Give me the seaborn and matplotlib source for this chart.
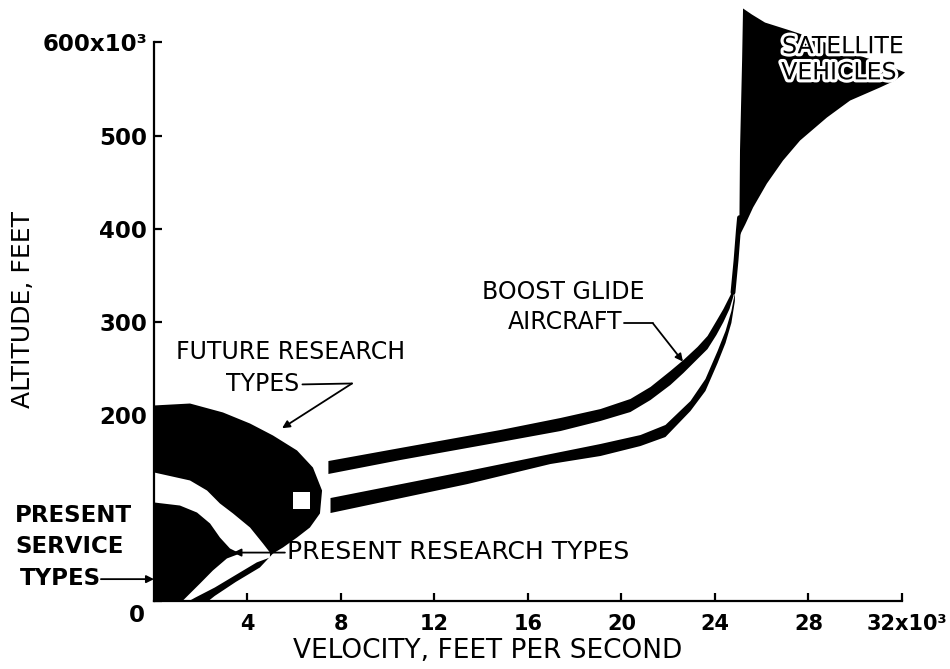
import matplotlib

matplotlib.use("Agg")
import matplotlib.pyplot as plt
import matplotlib.transforms as mtransforms
import matplotlib.patheffects as pe
import seaborn as sns

# velocity in 10^3 ft/s, altitude in 10^3 ft
future_v = [0, 1.54, 2.95, 4.11, 5.09, 6.12, 6.80, 7.19, 7.10, 6.67, 6.12, 5.52, 5.09, 4.53, 3.50, 2.60, 2.30, 0]
future_alt = [210.4, 212.5, 202.9, 191.0, 178.2, 162.1, 143.8, 119.1, 94.5, 79.4, 68.7, 58.0, 51.5, 36.5, 21.0, 6.0, 0, 0]

research_v = [0, 1.54, 2.27, 2.82, 3.38, 4.11, 4.66, 4.96, 4.96, 4.40, 3.50, 2.60, 1.75, 1.50, 0]
research_alt = [138.5, 129.9, 119.1, 105.2, 94.5, 79.4, 62.3, 52.6, 47.2, 42.0, 28.5, 15.0, 4.0, 0.5, 0.5]

service_v = [0, 1.11, 1.84, 2.40, 2.82, 3.25, 3.68, 3.12, 2.52, 1.97, 1.54, 1.24, 0]
service_alt = [106.3, 103.0, 95.5, 83.7, 68.7, 56.9, 51.5, 46.2, 33.3, 19.3, 8.6, 1.1, 0]

gap_v = [5.95, 6.67, 6.67, 5.95]
gap_alt = [99.8, 99.8, 117.0, 117.0]

glide1_v = [7.44, 10.52, 14.80, 17.37, 19.08, 20.36, 21.22, 22.07, 22.63, 23.23, 23.66, 24.04, 24.34, 24.60, 24.77]
glide1_top = [151.3, 165.3, 184.6, 197.5, 207.1, 217.9, 230.8, 247.9, 259.7, 273.7, 285.5, 301.6, 314.5, 327.4, 335.9]
glide1_bottom = [137.4, 152.4, 171.7, 183.5, 194.3, 203.9, 216.8, 232.9, 245.8, 260.8, 271.5, 286.6, 300.5, 314.5, 328.4]

glide2_v = [7.53, 13.39, 16.94, 19.08, 20.79, 21.86, 22.93, 23.57, 24.09, 24.43, 24.68, 24.83]
glide2_top = [111.6, 140.6, 158.8, 169.6, 179.2, 190.0, 215.7, 239.3, 269.4, 290.9, 312.3, 331.7]
glide2_bottom = [95.5, 126.6, 148.1, 156.7, 167.4, 177.1, 205.0, 226.5, 256.5, 278.0, 299.5, 323.1]

stalk_v = [24.77, 24.90, 25.00, 25.05]
stalk_alt = [331.7, 366.0, 398.2, 412.0]

satellite_v = [25.04, 25.07, 25.16, 25.20, 25.58, 26.14, 27.21, 28.49, 29.78, 31.06, 32.13, 31.70,
               31.06, 29.78, 28.79, 27.64, 26.91, 26.22, 25.63, 25.30]
satellite_alt = [392.0, 484.1, 580.7, 636.5, 630.0, 621.4, 612.9, 602.1, 589.2, 578.5, 567.8, 559.2,
                 551.7, 537.7, 519.5, 494.8, 473.3, 448.6, 422.9, 405.0]

x_ticks = [4, 8, 12, 16, 20, 24, 28, 32]
x_labels = ["4", "8", "12", "16", "20", "24", "28", "32x10³"]
y_ticks = [0, 200, 300, 400, 500, 600]
y_labels = ["0", "200", "300", "400", "500", "600x10³"]

sns.set_theme(style="ticks")
plt.rcParams["font.family"] = ["DejaVu Sans"]

fig = plt.figure(figsize=(9.5, 6.69), dpi=100)
ax = fig.add_axes([0.1621, 0.1009, 0.7972, 0.8913])

# regions
ax.fill(future_v, future_alt, color="black", lw=0)
ax.fill(research_v, research_alt, color="white", lw=0)
ax.fill(service_v, service_alt, color="black", lw=0)
ax.fill(gap_v, gap_alt, color="white", lw=0)
ax.fill_between(glide1_v, glide1_bottom, glide1_top, color="black", lw=0)
ax.fill_between(glide2_v, glide2_bottom, glide2_top, color="black", lw=0)
sns.lineplot(x=stalk_v, y=stalk_alt, sort=False, estimator=None, color="black", lw=3.5, ax=ax)
ax.fill(satellite_v, satellite_alt, color="black", lw=0)

ax.set_xlim(0, 32.4)
ax.set_ylim(0, 640)
ax.spines["top"].set_visible(False)
ax.spines["right"].set_visible(False)
ax.spines["left"].set_bounds(0, 600)
ax.spines["bottom"].set_bounds(0, 32)
for s in ["left", "bottom"]:
    ax.spines[s].set_linewidth(1.6)
    ax.spines[s].set_color("black")

ax.set_xticks(x_ticks)
ax.set_xticklabels(x_labels)
ax.set_yticks(y_ticks)
ax.set_yticklabels(y_labels)
ax.tick_params(direction="in", length=6, width=1.6, color="black")
ax.tick_params(axis="x", pad=9, labelsize=15)
ax.tick_params(axis="y", pad=5, labelsize=16.5)
for lbl in ax.get_xticklabels() + ax.get_yticklabels():
    lbl.set_fontweight("bold")
    lbl.set_color("black")

# "32x10³" hangs to the right of its tick, the origin "0" sits a bit low
last = ax.get_xticklabels()[-1]
last.set_horizontalalignment("left")
last.set_transform(last.get_transform() + mtransforms.ScaledTranslation(-0.35, 0, fig.dpi_scale_trans))
zero = ax.get_yticklabels()[0]
zero.set_transform(zero.get_transform() + mtransforms.ScaledTranslation(-0.02, -0.12, fig.dpi_scale_trans))

ax.set_xlabel("VELOCITY, FEET PER SECOND", fontsize=19, color="black")
ax.xaxis.set_label_coords(0.441, -0.062)
ax.set_ylabel("ALTITUDE, FEET", fontsize=18, color="black")
ax.yaxis.set_label_coords(-0.157, 0.489)

txt = dict(fontsize=17, color="black", va="center")
arrow = dict(arrowstyle="-|>", color="black", lw=1.3, mutation_scale=11, shrinkA=0, shrinkB=0)

# future research types
ax.text(0.94, 267.8, "FUTURE RESEARCH", ha="left", **txt)
ax.text(3.08, 233.4, "TYPES", ha="left", **txt)
ax.plot([6.35, 8.47], [233.0, 234.0], color="black", lw=1.3)
ax.annotate("", xy=(5.48, 186.0), xytext=(8.47, 234.0), arrowprops=arrow)

# boost glide aircraft
ax.text(14.03, 332.0, "BOOST GLIDE", ha="left", **txt)
ax.text(15.14, 300.0, "AIRCRAFT", ha="left", **txt)
ax.plot([20.1, 21.35], [298.4, 298.4], color="black", lw=1.3)
ax.annotate("", xy=(22.63, 257.5), xytext=(21.35, 298.4), arrowprops=arrow)

# satellite vehicles
halo = [pe.withStroke(linewidth=4.5, foreground="white")]
ax.text(26.87, 596.0, "SATELLITE", ha="left", path_effects=halo, **txt)
ax.text(31.79, 568.0, "VEHICLES", ha="right", path_effects=halo, **txt)

# present research types
ax.text(5.69, 53.0, "PRESENT RESEARCH TYPES", ha="left", fontsize=18, color="black", va="center")
ax.annotate("", xy=(3.4, 52.5), xytext=(5.6, 52.5), arrowprops=arrow)

# present service types (outside the axes)
side = dict(fontsize=16.5, fontweight="bold", color="black", va="center", ha="left", clip_on=False)
ax.text(-5.95, 91.8, "PRESENT", **side)
ax.text(-5.95, 58.5, "SERVICE", **side)
ax.text(-5.73, 24.7, "TYPES", **side)
ax.annotate("", xy=(0, 24.0), xytext=(-2.27, 24.0), arrowprops=arrow, annotation_clip=False)

fig.savefig("out.png", dpi=100)
